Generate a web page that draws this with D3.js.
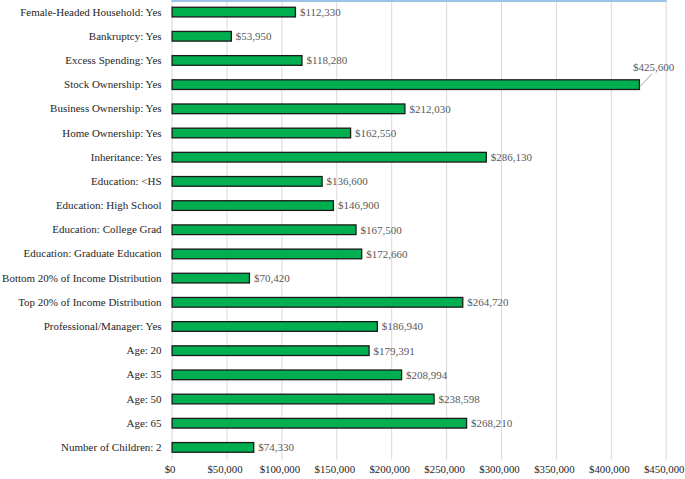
<!DOCTYPE html>
<html><head><meta charset="utf-8">
<script src="https://cdn.jsdelivr.net/npm/d3@7"></script>
<style>body{margin:0;background:#fff}svg{display:block}text{font-family:"Liberation Serif","Times New Roman",serif}</style>
</head><body><svg id="c" width="685" height="479"></svg>
<script>
const categories = ["Female-Headed Household: Yes","Bankruptcy: Yes","Excess Spending: Yes","Stock Ownership: Yes","Business Ownership: Yes","Home Ownership: Yes","Inheritance: Yes","Education: <HS","Education: High School","Education: College Grad","Education: Graduate Education","Bottom 20% of Income Distribution","Top 20% of Income Distribution","Professional/Manager: Yes","Age: 20","Age: 35","Age: 50","Age: 65","Number of Children: 2"];
const values = [112330,53950,118280,425600,212030,162550,286130,136600,146900,167500,172660,70420,264720,186940,179391,208994,238598,268210,74330];
const tickValues = [0,50000,100000,150000,200000,250000,300000,350000,400000,450000];

(function(){
const svg = d3.select("#c");
const pL = 171.6, pR = 665.7, pT = 0, pB = 459.5;
const x = d3.scaleLinear().domain([0,450000]).range([pL,pR]);
const y = d3.scaleBand().domain(categories).range([pT,pB]).paddingInner(0.6).paddingOuter(0.3);
const fmt = v => "$" + d3.format(",")(v);

svg.append("g").selectAll("line").data(tickValues).join("line")
  .attr("x1",d=>x(d)+0.5).attr("x2",d=>x(d)+0.5).attr("y1",pT).attr("y2",pB)
  .attr("stroke","#d9d9d9").attr("stroke-width",1);
svg.append("line").attr("x1",pL).attr("x2",pR+1).attr("y1",1).attr("y2",1)
  .attr("stroke","#9dc3e6").attr("stroke-width",2);

const xa = svg.append("g").attr("transform",`translate(-2,${pB})`)
  .call(d3.axisBottom(x).tickValues(tickValues).tickSize(0).tickPadding(6).tickFormat(fmt));
xa.select(".domain").remove();
xa.selectAll("text").attr("font-size",10.8).attr("fill","#262626").style("font-family","Liberation Serif");

const ya = svg.append("g").attr("transform",`translate(${pL},0)`)
  .call(d3.axisLeft(y).tickSize(0).tickPadding(10));
ya.select(".domain").remove();
ya.selectAll("text").attr("font-size",11).attr("fill","#262626").style("font-family","Liberation Serif");

svg.append("g").selectAll("rect").data(values).join("rect")
  .attr("x",x(0)+0.5).attr("y",(d,i)=>y(categories[i]))
  .attr("width",d=>x(d)-x(0)).attr("height",y.bandwidth())
  .attr("fill","#00b050").attr("stroke","#1a1a1a").attr("stroke-width",1.3);

const maxI = values.indexOf(d3.max(values));
svg.append("g").selectAll("text").data(values).join("text")
  .attr("x",(d,i)=> i===maxI ? x(d)-6 : x(d)+5)
  .attr("y",(d,i)=> i===maxI ? y(categories[i]) - 13 : y(categories[i])+y.bandwidth()/2)
  .attr("dy","0.35em").attr("font-size",11).attr("fill","#595959")
  .text(d=>fmt(d));
const yb = y(categories[maxI]);
svg.append("line").attr("x1",x(values[maxI])+1).attr("y1",yb+y.bandwidth()/2+2)
  .attr("x2",x(values[maxI])+13).attr("y2",yb-6).attr("stroke","#8c8c8c").attr("stroke-width",0.8);
})();
</script></body></html>
